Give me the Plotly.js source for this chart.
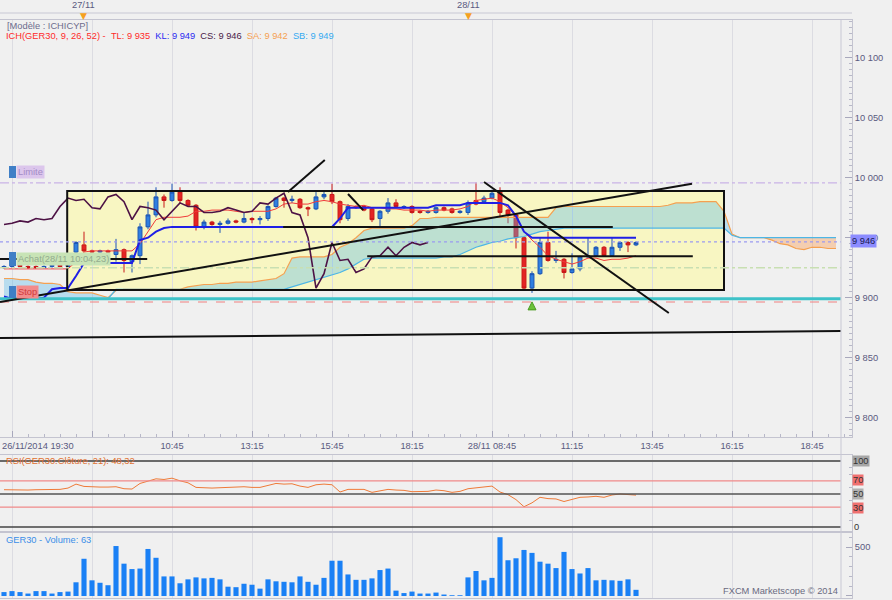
<!DOCTYPE html>
<html><head><meta charset="utf-8">
<script src="https://cdn.plot.ly/plotly-3.0.1.min.js"></script>
<style>html,body{margin:0;padding:0;background:#f0f0f0;}#chart{width:892px;height:600px;}</style>
</head><body><div id="chart"></div>
<script>
// ---------- DATA ----------
const opens = [9925,9926,9927,9926,9926,9925,9926,9927,9926,
 9938,9944,9939,9938,9939,9936,9940,9930,9935,9959,9969,
 9984,9981,9988,9981,9977,9959,9963,9961,9962,9964,
 9963,9966,9965,9966,9976,9983,9981,9982,9975,9974,
 9984,9986,9980,9966,9976,9976,9974,9966,9972,9979,
 9975,9976,9972,9971,9971,9975,9974,9971,9971,9981,
 9980,9983,9988,9973,9969,9950,9908,9920,9946,9931,
 9932,9921,9924,9934,9935,9942,9935,9942,9946,9944];
const highs = [9927,9928,9928,9927,9927,9927,9928,9928,9929,
 9947,9955,9940,9940,9940,9949,9941,9936,9962,9980,9992,
 9986,9995,9992,9982,9978,9965,9964,9964,9966,9965,
 9971,9967,9968,9977,9984,9984,9985,9983,9976,9988,
 9988,9995,9981,9978,9977,9977,9975,9973,9983,9982,
 9977,9977,9973,9973,9976,9976,9975,9973,9981,9996,
 9985,9990,9992,9974,9970,9951,9922,9950,9955,9939,
 9933,9937,9935,9950,9943,9943,9950,9947,9947,9947];
const lows = [9924,9925,9925,9924,9924,9924,9925,9925,9925,
 9937,9938,9937,9937,9937,9930,9921,9921,9928,9957,9967,
 9975,9980,9979,9976,9956,9957,9960,9954,9961,9962,
 9962,9962,9961,9964,9975,9975,9979,9974,9968,9973,
 9982,9978,9962,9964,9974,9972,9963,9958,9970,9975,
 9974,9970,9970,9970,9970,9972,9970,9970,9969,9977,
 9979,9982,9967,9962,9941,9907,9904,9919,9930,9929,
 9916,9920,9922,9933,9934,9934,9934,9939,9938,9943];
const closes = [9926,9927,9926,9925,9925,9926,9927,9926,9928,
 9946,9939,9938,9939,9938,9940,9931,9935,9959,9969,9984,
 9981,9988,9981,9977,9959,9963,9961,9962,9964,9963,
 9966,9965,9966,9976,9983,9981,9982,9975,9974,9984,
 9986,9980,9965,9976,9975,9973,9965,9972,9979,9976,
 9976,9971,9971,9972,9975,9973,9971,9972,9979,9978,
 9983,9987,9971,9969,9950,9908,9920,9946,9931,9932,
 9921,9924,9934,9935,9942,9935,9942,9946,9944,9946];
const tenkan = [9924,9924,9924,9924,9924,9924,9924,9924,9924,
 9930,9938,9939,9939,9939,9939,9939,9939,9945,9955,9965,
 9967,9967,9967,9968,9972,9972,9973,9973,9973,9972,
 9971,9972,9972,9972,9974,9978,9979,9978,9978,9980,
 9981,9980,9978,9977,9976,9977,9975,9975,9974,9974,
 9973,9973,9973,9972,9973,9973,9973,9974,9976,9981,
 9982,9983,9980,9975,9968,9955,9948,9942,9935,9932,
 9930,9928,9930,9933,9933,9931,9932,9932,9933,9935];
const kijun = [9901,9899,9899,9899,9899,9900,9907,9908,9908,
 9918,9929,9929,9929,9929,9929,9929,9929,9948,9950,9955,
 9958,9959,9959,9959,9959,9959,9959,9959,9959,9959,
 9959,9959,9959,9959,9959,9959,9959,9959,9959,9959,
 9959,9959,9966,9975,9975,9975,9975,9975,9975,9975,
 9975,9975,9975,9975,9977,9977,9977,9977,9979,9979,
 9979,9979,9979,9977,9968,9955,9950,9950,9950,9950,
 9950,9950,9950,9950,9950,9950,9950,9950,9950,9950];
const senkouA = [9916,9916,9915,9915,9913,9912,9912,9911,9905,9904,
 9904,9904,9902,9900,9906,9907,9907,9907,9907,9907,
 9907,9907,9907,9909,9910,9911,9911,9912,9912,9913,
 9913,9913,9914,9915,9916,9920,9933,9934,9934,9934,
 9934,9936,9942,9945,9950,9956,9958,9958,9958,9958,
 9958,9960,9966,9966,9967,9967,9967,9967,9967,9967,
 9967,9967,9967,9967,9967,9967,9967,9967,9967,9975,
 9976,9976,9976,9976,9976,9976,9976,9976,9976,9976,
 9976,9976,9976,9977,9979,9979,9979,9980,9980,9980,
 9972,9953,9950,9950,9950,9950,9948,9945,9944,9941,
 9940,9942,9942,9941,9941];
const senkouB = [9899,9899,9899,9899,9899,9899,9899,9899,9899,9899,
 9899,9899,9899,9899,9907,9907,9907,9907,9907,9907,
 9907,9907,9907,9907,9907,9907,9907,9907,9907,9907,
 9907,9907,9907,9907,9907,9907,9909,9911,9913,9915,
 9917,9919,9921,9924,9928,9932,9933,9933,9933,9933,
 9933,9933,9933,9933,9933,9934,9934,9936,9939,9942,
 9944,9946,9947,9949,9950,9951,9953,9955,9956,9957,
 9958,9958,9958,9958,9958,9958,9958,9958,9958,9958,
 9958,9958,9958,9958,9958,9958,9958,9958,9958,9958,
 9958,9952,9950,9950,9950,9950,9950,9950,9950,9950,
 9950,9950,9950,9950,9950];
const rsi = [56.5,56,56,56,56.5,56.5,57,57,59,65,
 61.5,60.5,60.5,60.5,61,58,57.5,66,70,73,
 72,74,70,67,60,59,59,59.5,60,59.5,
 61,60,60,63,66,65,65.5,62,60,64,
 65,64,53,57,57.5,57,52.5,55,57,56,
 55.5,53.5,53.5,54,56,55,52.5,54,58,59,
 60,62,53,49,41.5,30.7,36.6,45,43,42.5,
 38.6,41.6,45,45.5,46.5,45,48.5,50,49.5,48.32];
const volumes = [40,50,40,25,50,50,25,40,45,140,
 380,160,135,110,510,330,275,280,480,390,
 200,200,130,170,190,180,185,170,95,90,
 125,115,75,170,150,145,140,200,145,115,
 185,360,360,220,165,165,180,265,280,55,
 30,45,25,25,35,15,8,8,190,255,
 160,185,600,365,385,470,440,350,330,285,
 450,275,230,285,160,165,160,155,170,63];
const chikouShift = 26;
const tickBars = [1,11,21,31,41,51,61,71,81,91,101];
const tickLabels = ['','','10:45','13:15','15:45','18:15','28/11 08:45','11:15','13:45','16:15','18:45'];
const firstTickLabel = '26/11/2014 19:30';
const dayMarkers = [9.9, 58];
const dayLabels = ['27/11','28/11'];
const priceTicks = [9800,9850,9900,9950,10000,10050,10100];
const priceTickText = ['9 800','9 850','9 900','9 950','10 000','10 050','10 100'];
// drawings: [bar0, price0, bar1, price1]
const trendLines = [
  [-0.5, 9896.4, 86, 9995],
  [-0.5, 9866.4, 104.6, 9872.2],
  [35.5, 9988, 40.1, 10014.7],
  [43, 9986.4, 44.9, 9973],
  [60, 9996.4, 83.1, 9887.2],
  [34.9, 9959, 76.1, 9959],
  [45.4, 9934.5, 86.1, 9934.5],
  [-0.5, 9932.2, 17.9, 9932.2]
];
const zoneBox = [7.9, 9906.4, 90, 9989];
const limitLevel = 9995.6, lastPrice = 9946.5, entryLevel = 9925, stopLevel = 9896.4, supportLevel = 9899.2;
const buyBar = 66, buyPrice = 9896.5;
const rsiLevels = [100, 70, 50, 30, 0];

// ---------- helpers ----------
const py = y => (598 - y) / 578;
const px = x => x / 852;
const barIdx = closes.map((_, i) => i);
const cloudIdx = senkouA.map((_, i) => i);
const split = 95;
const xEnd = 104.6;

const traces = [];
traces.push({x: cloudIdx.slice(0, split+1), y: senkouB.slice(0, split+1), type:'scatter', mode:'lines', line:{width:0}, hoverinfo:'skip'});
traces.push({x: cloudIdx.slice(0, split+1), y: senkouA.slice(0, split+1), type:'scatter', mode:'lines', line:{width:0}, fill:'tonexty', fillcolor:'rgba(85,185,235,0.36)', hoverinfo:'skip'});
traces.push({x: cloudIdx.slice(split), y: senkouB.slice(split), type:'scatter', mode:'lines', line:{width:0}, hoverinfo:'skip'});
traces.push({x: cloudIdx.slice(split), y: senkouA.slice(split), type:'scatter', mode:'lines', line:{width:0}, fill:'tonexty', fillcolor:'rgba(250,150,70,0.38)', hoverinfo:'skip'});
traces.push({x: cloudIdx, y: senkouA, type:'scatter', mode:'lines', line:{color:'#f5a050', width:1.2}, hoverinfo:'skip'});
traces.push({x: cloudIdx, y: senkouB, type:'scatter', mode:'lines', line:{color:'#4db6e6', width:1.2}, hoverinfo:'skip'});
traces.push({x: barIdx, open: opens, high: highs, low: lows, close: closes, type:'candlestick',
  increasing:{line:{color:'#1d55b4', width:1}, fillcolor:'#2f7fe0'},
  decreasing:{line:{color:'#c81818', width:1}, fillcolor:'#e42424'}, hoverinfo:'skip', whiskerwidth:0});
traces.push({x: barIdx, y: tenkan, type:'scatter', mode:'lines', line:{color:'#f03a3a', width:1}, hoverinfo:'skip'});
traces.push({x: barIdx, y: kijun, type:'scatter', mode:'lines', line:{color:'#1f1fe6', width:2}, hoverinfo:'skip'});
traces.push({x: barIdx.slice(0, closes.length - chikouShift), y: closes.slice(chikouShift), type:'scatter', mode:'lines', line:{color:'#4d1245', width:1.6}, hoverinfo:'skip'});
traces.push({x: [buyBar], y: [buyPrice], type:'scatter', mode:'markers', marker:{symbol:'arrow-up', size:8, color:'#6cc23a', line:{color:'#4a9a20', width:1}}, hoverinfo:'skip', cliponaxis:false});
traces.push({x: barIdx, y: rsi, xaxis:'x2', yaxis:'y2', type:'scatter', mode:'lines', line:{color:'#ef7a38', width:1}, hoverinfo:'skip'});
traces.push({x: barIdx, y: volumes, xaxis:'x3', yaxis:'y3', type:'bar', width:0.64, marker:{color:'#1a80f5', line:{width:0}}, hoverinfo:'skip'});

const shapes = [];
shapes.push({type:'rect', xref:'x', yref:'y', x0:zoneBox[0], y0:zoneBox[1], x1:zoneBox[2], y1:zoneBox[3], fillcolor:'#f8f6c2', line:{width:0}, layer:'below'});
shapes.push({type:'rect', xref:'x', yref:'y', x0:zoneBox[0], y0:zoneBox[1], x1:zoneBox[2], y1:zoneBox[3], fillcolor:'rgba(0,0,0,0)', line:{color:'#111', width:2}, layer:'above'});
const hline = (y, color, width, dash) => ({type:'line', xref:'x', yref:'y', x0:-0.5, x1:xEnd, y0:y, y1:y, line:{color, width, dash}, layer:'above'});
shapes.push(hline(limitLevel, '#c9b3e6', 1.2, 'dashdot'));
shapes.push(hline(lastPrice, '#9a9af0', 1.2, 'dot'));
shapes.push(hline(entryLevel, '#c8dfb2', 1.5, 'dashdot'));
shapes.push(hline(stopLevel, '#f08080', 1.2, 'dash'));
shapes.push(hline(supportLevel, '#3ec2c8', 3, 'solid'));
trendLines.forEach(t => shapes.push({type:'line', xref:'x', yref:'y', x0:t[0], y0:t[1], x1:t[2], y1:t[3], line:{color:'#111', width:2}, layer:'above'}));
rsiLevels.forEach(v => {
  let c = '#555', w = 1.5;
  if (v === 70 || v === 30) { c = '#f08a8a'; w = 1.2; }
  if (v === 100) { c = '#6a6a6a'; w = 2; }
  if (v === 0) { c = '#444'; w = 1.5; }
  shapes.push({type:'line', xref:'x2', yref:'y2', x0:-0.5, x1:xEnd, y0:v, y1:v, line:{color:c, width:w}, layer:'above'});
});
shapes.push({type:'line', xref:'paper', yref:'paper', x0:px(841), x1:px(841), y0:0, y1:1, line:{color:'#c8c8d4', width:1}});
shapes.push({type:'line', xref:'paper', yref:'paper', x0:0, x1:1, y0:py(13), y1:py(13), line:{color:'#c8c8d4', width:1}});
[[166,178],[252,266],[286,298]].forEach(r => shapes.push({type:'rect', xref:'paper', yref:'paper', x0:px(9), x1:px(16), y0:py(r[1]), y1:py(r[0]), fillcolor:'#3f7fc6', line:{width:0}}));

const F = 'Liberation Sans, Arial, sans-serif';
const ann = [];
const A = o => ann.push(Object.assign({showarrow:false, xref:'paper', yref:'paper', xanchor:'left', yanchor:'middle', font:{family:F, size:9.3, color:'#5a5a80'}}, o));
const nb = '\u00a0';
A({x:px(5), y:py(26), text:'[Modèle : ICHICYP]', font:{family:F, size:9.3, color:'#6c6c8c'}});
A({x:px(4), y:py(36), text:
 '<span style="color:#ff2a2a">ICH(GER30, 9, 26, 52) -'+nb+nb+'TL: 9 935</span>'+nb+nb+
 '<span style="color:#2a2af0">KL: 9 949</span>'+nb+nb+
 '<span style="color:#4a1a48">CS: 9 946</span>'+nb+nb+
 '<span style="color:#f5a050">SA: 9 942</span>'+nb+nb+
 '<span style="color:#35aaf0">SB: 9 949</span>'});
A({x:px(0), y:py(446), text:firstTickLabel});
dayMarkers.forEach((d, i) => {
  A({xref:'x', x:d, y:py(5), xanchor:'center', text:dayLabels[i]});
  A({xref:'x', x:d, y:py(16), xanchor:'center', text:'▼', font:{family:'DejaVu Sans', size:9, color:'#f5a020'}});
});
A({x:px(16), y:py(172), text:'Limite', bgcolor:'#dcc6ec', borderpad:1, font:{family:F, size:9.3, color:'#a38bc6'}});
A({x:px(16), y:py(259), text:'Achat(28/11 10:04,23)', bgcolor:'#c8e4b6', borderpad:1, font:{family:F, size:9.3, color:'#93ab8e'}});
A({x:px(16), y:py(292), text:'Stop', bgcolor:'#f28b8b', borderpad:1, font:{family:F, size:9.3, color:'#d03a3a'}});
A({x:px(850), y:py(241), text:'9 946', bgcolor:'#8c8cff', borderpad:1, font:{family:F, size:9.3, color:'#1a1a50'}});
A({x:px(4), y:py(461), text:'RSI(GER30.Clôture, 21): 48,32', font:{family:F, size:9.3, color:'#e07030'}});
A({x:px(852), y:py(461), text:'100', bgcolor:'#a6a6a6', borderpad:0, font:{family:F, size:9.3, color:'#333'}});
A({x:px(852), y:py(480), text:'70', bgcolor:'#f07070', borderpad:0, font:{family:F, size:9.3, color:'#333'}});
A({x:px(852), y:py(494), text:'50', bgcolor:'#b0b0b0', borderpad:0, font:{family:F, size:9.3, color:'#333'}});
A({x:px(852), y:py(508), text:'30', bgcolor:'#f07070', borderpad:0, font:{family:F, size:9.3, color:'#333'}});
A({x:px(852), y:py(527), text:'0', font:{family:F, size:9.3, color:'#333'}});
A({x:px(4), y:py(540), text:'GER30 - Volume: 63', font:{family:F, size:9.3, color:'#3a8ee8'}});
A({x:px(840), y:py(591), xanchor:'right', text:'FXCM Marketscope © 2014', font:{family:F, size:9.3, color:'#6a6a80'}});

const axBase = {showline:true, linecolor:'#c4c4d0', mirror:true, zeroline:false, fixedrange:true};
const layout = {
  width:892, height:600,
  margin:{l:0, r:40, t:20, b:2, pad:0},
  paper_bgcolor:'#f0f0f0', plot_bgcolor:'#f0f0f0',
  showlegend:false, hovermode:false, dragmode:false,
  font:{family:F, size:9.3, color:'#5a5a80'},
  xaxis: Object.assign({}, axBase, {anchor:'y', domain:[0,1], range:[-0.5,106], tickmode:'array', tickvals:tickBars, ticktext:tickLabels,
    showgrid:true, gridcolor:'#dcdce2', ticks:'inside', ticklen:6, tickcolor:'#a8a8bc',
    minor:{tick0:1, dtick:2, ticks:'inside', ticklen:3, tickcolor:'#b8b8c8', showgrid:false},
    rangeslider:{visible:false}, tickfont:{family:F, size:9.3, color:'#5a5a80'}}),
  yaxis: Object.assign({}, axBase, {domain:[0.27855,1], range:[9783.9,10131.4], side:'right', tickmode:'array', tickvals:priceTicks, ticktext:priceTickText,
    ticks:'inside', ticklen:7, tickcolor:'#a8a8bc', showgrid:false,
    minor:{tick0:9800, dtick:5, ticks:'inside', ticklen:3, tickcolor:'#b8b8c8', showgrid:false},
    tickfont:{family:F, size:9.3, color:'#5a5a80'}}),
  xaxis2: Object.assign({}, axBase, {anchor:'y2', matches:'x', tickmode:'array', tickvals:tickBars, showticklabels:false, showgrid:true, gridcolor:'#dcdce2', ticks:''}),
  yaxis2: Object.assign({}, axBase, {domain:[0.11592,0.2474], range:[-6.06,109.1], side:'right', showgrid:false, showticklabels:false,
    tickmode:'array', tickvals:[10,20,40,60,80,90], ticks:'inside', ticklen:3, tickcolor:'#b8b8c8'}),
  xaxis3: Object.assign({}, axBase, {anchor:'y3', matches:'x', tickmode:'array', tickvals:tickBars, showticklabels:false, showgrid:true, gridcolor:'#dcdce2', ticks:''}),
  yaxis3: Object.assign({}, axBase, {domain:[0,0.11246], range:[-20.4,643], side:'right', showgrid:false, tickmode:'array', tickvals:[0,500], ticktext:['0','500'],
    ticks:'inside', ticklen:6, tickcolor:'#a8a8bc', minor:{tick0:0, dtick:100, ticks:'inside', ticklen:3, tickcolor:'#b8b8c8'},
    tickfont:{family:F, size:9.3, color:'#5a5a80'}}),
  bargap:0.3,
  shapes, annotations: ann
};
Plotly.newPlot('chart', traces, layout, {displayModeBar:false, staticPlot:true});
</script></body></html>
